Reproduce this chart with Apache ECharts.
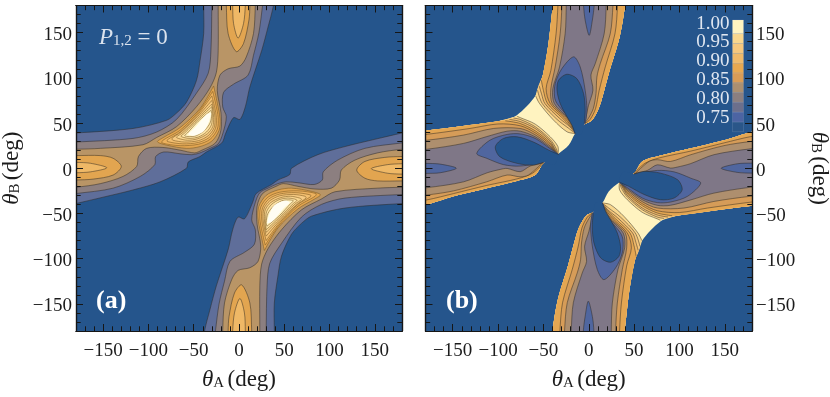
<!DOCTYPE html>
<html>
<head>
<meta charset="utf-8">
<script src="https://cdn.jsdelivr.net/npm/echarts@6/dist/echarts.min.js"></script>
<style>html,body{margin:0;background:#fff}#c{width:830px;height:397px}</style>
</head>
<body>
<div id="c"></div>
<script>
var majorTicks = [-150, -100, -50, 0, 50, 100, 150];
var minorTicks = [-170,-160,-140,-130,-120,-110,-90,-80,-70,-60,-40,-30,-20,-10,10,20,30,40,60,70,80,90,110,120,130,140,160,170];
var legendEdges = [0.725,0.75,0.775,0.8,0.825,0.85,0.875,0.9,0.925,0.95,0.975,1.01];
var legendColors = ['#2a5689','#4c64a3','#6c6f8c','#8b7f80','#ab8f70','#d99c56','#e8a850','#f0ba6a','#f6c87e','#f9d78e','#fff3c0'];
var legendTicks = [0.75,0.8,0.85,0.9,0.95,1];

// panel (a), contour levels, upper left arm
var aUp1 = [[-190,39],[-180,39],[-117,44],[-80,53],[-69,61],[-58,73],[-47,97],[-43,119],[-39,149],[-39,180],[-39,190],[38,190],[38,180],[32,156],[25,130],[12,90],[7,68],[1,54],[-6,56],[-15,38],[-19,28],[-36,18],[-43,13],[-56,7],[-58,0],[-87,-15],[-117,-24],[-150,-32],[-180,-39],[-190,-41]];
var aUp2 = [[-190,29],[-180,29],[-117,33],[-91,40],[-69,54],[-47,83],[-34,105],[-31,130],[-30,180],[-30,190],[27,190],[26,180],[22,150],[16,125],[10,103],[-6,93],[-17,84],[-18,68],[-14,57],[-18,38],[-23,27],[-32,22],[-43,17],[-52,15],[-65,16],[-83,18],[-92,13],[-93,4],[-109,-9],[-139,-22],[-180,-28],[-190,-29]];
var aUp3 = [[-190,21],[-180,21],[-153,22],[-106,26],[-91,34],[-69,46],[-47,68],[-32,89],[-25,106],[-23,130],[-23,180],[-23,190],[18,190],[18,180],[16,149],[8,123],[1,113],[-12,110],[-21,103],[-24,86],[-20,62],[-20,42],[-26,28],[-41,20],[-49,17],[-65,20],[-84,23],[-102,22],[-111,13],[-113,2],[-128,-9],[-153,-17],[-180,-21],[-190,-21]];
var aUpSide4 = [[-190,14],[-180,14],[-153,14],[-139,11],[-130,2],[-139,-7.5],[-161,-12],[-180,-13],[-190,-13]];
var aUpSide5 = [[-190,6.5],[-180,6.5],[-164,5.5],[-146,0.5],[-164,-4],[-180,-5],[-190,-5]];
var aUpTop4 = [[-14,190],[-14,180],[-12,149],[-3,129],[5,138],[11,164],[12,180],[12,190]];
var aUpTop5 = [[-7,190],[-7,180],[-6,160],[-1,144],[5,160],[7,180],[7,190]];
var aUpPeak4 = [[-28,91],[-43,66],[-65,45],[-83.5,34],[-90,29.3],[-80,25.6],[-58,22],[-43,24],[-30,30],[-22,42],[-21,55],[-24,72]];
var aUpPeak5 = [[-29,85],[-44,63],[-65,42],[-84,31],[-85,28],[-65,25],[-45,26.5],[-32,32],[-24,43],[-23,56],[-25.5,70]];
var aUpPeak6 = [[-30,80],[-45,60],[-65,40],[-79,31.5],[-79,29.5],[-62,27],[-45,28.5],[-33,34],[-26,44],[-25,56],[-27,68]];
var aUpPeak7 = [[-30,75],[-46,57],[-64,40],[-74,33],[-73,31],[-60,29],[-45,30.5],[-34,36],[-27.5,45],[-26.5,56],[-28,66]];
var aUpPeak8 = [[-30,71],[-46,55],[-62,39.5],[-69,34.5],[-67,33],[-57,31],[-46,32.5],[-35,38],[-29,46],[-28,56],[-29,65]];
var aUpPeak9 = [[-30,68],[-45,54],[-60,39],[-64,35.5],[-61,34],[-54,33],[-45,34.5],[-36,40],[-30.5,48],[-29.5,58]];
var aUpPeak10 = [[-31,64],[-45,52],[-57,39],[-60,36],[-55,35],[-47,36],[-38,42],[-32,50],[-30,60]];
var aUpPeak11 = [[-31,61],[-36,59.5],[-48.6,45],[-56,37.5],[-50,36],[-39,41],[-33,52]];

// panel (a), lower right arm
var aLo1 = [[190,-39],[180,-39],[117,-44],[80,-53],[69,-61],[58,-73],[47,-97],[43,-119],[39,-149],[39,-180],[39,-190],[-38,-190],[-38,-180],[-32,-156],[-25,-130],[-12,-90],[-7,-68],[-1,-54],[6,-56],[15,-38],[19,-28],[36,-18],[43,-13],[56,-7],[58,0],[87,15],[117,24],[150,32],[180,39],[190,41]];
var aLo2 = [[190,-29],[180,-29],[117,-33],[91,-40],[69,-54],[47,-83],[34,-105],[31,-130],[30,-180],[30,-190],[-27,-190],[-26,-180],[-22,-150],[-16,-125],[-10,-103],[6,-93],[17,-84],[18,-68],[14,-57],[18,-38],[23,-27],[32,-22],[43,-17],[52,-15],[65,-16],[83,-18],[92,-13],[93,-4],[109,9],[139,22],[180,28],[190,29]];
var aLo3 = [[190,-21],[180,-21],[153,-22],[106,-26],[91,-34],[69,-46],[47,-68],[32,-89],[25,-106],[23,-130],[23,-180],[23,-190],[-18,-190],[-18,-180],[-16,-149],[-8,-123],[-1,-113],[12,-110],[21,-103],[24,-86],[20,-62],[20,-42],[26,-28],[41,-20],[49,-17],[65,-20],[84,-23],[102,-22],[111,-13],[113,-2],[128,9],[153,17],[180,21],[190,21]];
var aLoSide4 = [[190,-14],[180,-14],[153,-14],[139,-11],[130,-2],[139,7.5],[161,12],[180,13],[190,13]];
var aLoSide5 = [[190,-6.5],[180,-6.5],[164,-5.5],[146,-0.5],[164,4],[180,5],[190,5]];
var aLoTop4 = [[14,-190],[14,-180],[12,-149],[3,-129],[-5,-138],[-11,-164],[-12,-180],[-12,-190]];
var aLoTop5 = [[7,-190],[7,-180],[6,-160],[1,-144],[-5,-160],[-7,-180],[-7,-190]];
var aLoPeak4 = [[28,-91],[43,-66],[65,-45],[83.5,-34],[90,-29.3],[80,-25.6],[58,-22],[43,-24],[30,-30],[22,-42],[21,-55],[24,-72]];
var aLoPeak5 = [[29,-85],[44,-63],[65,-42],[84,-31],[85,-28],[65,-25],[45,-26.5],[32,-32],[24,-43],[23,-56],[25.5,-70]];
var aLoPeak6 = [[30,-80],[45,-60],[65,-40],[79,-31.5],[79,-29.5],[62,-27],[45,-28.5],[33,-34],[26,-44],[25,-56],[27,-68]];
var aLoPeak7 = [[30,-75],[46,-57],[64,-40],[74,-33],[73,-31],[60,-29],[45,-30.5],[34,-36],[27.5,-45],[26.5,-56],[28,-66]];
var aLoPeak8 = [[30,-71],[46,-55],[62,-39.5],[69,-34.5],[67,-33],[57,-31],[46,-32.5],[35,-38],[29,-46],[28,-56],[29,-65]];
var aLoPeak9 = [[30,-68],[45,-54],[60,-39],[64,-35.5],[61,-34],[54,-33],[45,-34.5],[36,-40],[30.5,-48],[29.5,-58]];
var aLoPeak10 = [[31,-64],[45,-52],[57,-39],[60,-36],[55,-35],[47,-36],[38,-42],[32,-50],[30,-60]];
var aLoPeak11 = [[31,-61],[36,-59.5],[48.6,-45],[56,-37.5],[50,-36],[39,-41],[33,-52]];

// panel (b), outline of the masked region, upper left arm
var bUpShape = [[-190,40.5],[-180,41.4],[-131,47.7],[-94,53.2],[-79.3,58.7],[-59,80],[-50.6,103],[-44.4,138],[-39.6,180],[-38,190],[40,190],[40,180],[34,145],[23,108],[14,75],[10,64],[3,52.5],[-5,48.5],[-15,38.5],[-22,25.6],[-34,15.5],[-50,5.5],[-59,-7.5],[-79.3,-14],[-112.5,-22],[-149,-31],[-180,-40.5],[-190,-41]];
var bUpTopEdge = [[-5,48.5],[3,52.5],[10,64],[14,75],[23,108],[34,145],[40,180],[40,190],[-38,190],[-39.6,180],[-44.4,138],[-50.6,103]];
var bUpLeftEdge = [[-50,5.5],[-59,-7.5],[-79.3,-14],[-112.5,-22],[-149,-31],[-180,-40.5],[-190,-41],[-190,40.5],[-180,41.4],[-131,47.7],[-100,52]];
// flank lines running from the top of the panel to the tip
var bUpF1 = [[-58.5,80],[-54.3,71.6],[-38.8,53.2],[-24,40.3],[-15,38.5]];
var bUpF2 = [[-56.5,86.4],[-51.3,71.6],[-35,54],[-22,44],[-15,38.5]];
var bUpF3 = [[-54.5,90.8],[-52,82],[-48.4,71.6],[-32,55],[-21,46],[-15,38.5]];
var bUpF4 = [[-52.3,97.4],[-50,86],[-45.5,71.6],[-29.6,56],[-20.4,46.6],[-15,38.5]];
var bUpF5 = [[-34,190],[-34,180],[-36,149],[-41.8,108],[-47,88],[-42.5,71.6],[-27,56],[-19.7,47.3],[-15,38.5]];
var bUpF6 = [[-29.6,190],[-29.6,180],[-31.5,149],[-37,112],[-41.8,88],[-40.3,71.6],[-24.8,56],[-19,48],[-15,38.5]];
var bUpF7 = [[-24.8,190],[-24.8,180],[-26,149],[-32.2,112],[-39.6,88],[-38,71.6],[-23.4,56],[-18.2,48.8],[-15,38.5]];
var bUpR5 = [[-4.6,49],[1.5,54],[7.5,66],[11.5,86],[18.2,112],[28.9,148.7],[31.8,180],[31.8,190]];
var bUpR6 = [[-4.6,49.5],[-0.2,55.5],[5,66],[8,82.7],[9,101],[12.7,115.8],[23.7,148.7],[26.7,180],[26.7,190]];
var bUpR7 = [[-4.6,49.5],[-3,57],[-0.2,69.7],[4.6,86.4],[2.4,103],[7.2,115.8],[17,148.7],[19.3,180],[19.3,190]];
var bUpBlue = [[-15,38.5],[-17.5,48.8],[-22.3,56],[-35,71.6],[-37.7,79],[-37,93.7],[-29.6,110.2],[-16.7,123.2],[-9.4,112],[-3.9,86],[-2,64],[-3.9,50]];
var bUpBlueTop = [[-5.7,190],[-5.7,180],[-4,164],[0.5,147],[4,164],[6,180],[6,190]];
var bUpHole = [[-15,38.5],[-18.6,47.7],[-24,57],[-31.5,71.6],[-35,86.4],[-33.3,97.4],[-24,104],[-13,99],[-5.7,82.6],[-3.9,64],[-5,49.5]];
var bUpHoleMouth = [[-8,38]];
// flank lines running from the left of the panel to the tip
var bUpG1 = [[-79,57.5],[-75.6,56],[-59,48.8],[-42.5,34.8],[-34,24],[-34,15.5]];
var bUpG2 = [[-83,55.5],[-75.6,54],[-59,45.9],[-42.5,31.9],[-36,22],[-34,15.5]];
var bUpG3 = [[-87.4,54],[-75.6,51.7],[-59,44],[-42.5,30],[-37,21],[-34,15.5]];
var bUpG4 = [[-92,52.5],[-75.6,49.5],[-59,41.4],[-42.5,28.2],[-37.5,20.5],[-34,15.5]];
var bUpG5 = [[-190,37],[-179.5,37.4],[-131,44],[-100,49],[-75.6,47],[-59,39.2],[-42.5,26.4],[-38,20],[-34,15.5]];
var bUpG6 = [[-190,31],[-178.5,31],[-138,36.7],[-105,44],[-75.6,44],[-59,37],[-42.5,24.5],[-38,19.5],[-34,15.5]];
var bUpG7 = [[-190,21],[-178.5,21],[-138,27.5],[-112.5,35],[-90,41],[-75.6,41],[-59,34.8],[-42.5,23],[-38,19],[-34,15.5]];
var bUpL5 = [[-50,5.5],[-62,-5.5],[-78,-11.5],[-112.5,-19],[-149,-28],[-178.5,-35],[-190,-35.5]];
var bUpL6 = [[-51.7,5.4],[-66.5,-7.5],[-75.6,-9.5],[-90,-7.5],[-112.5,-15],[-149,-25],[-178.5,-29.6],[-190,-30]];
var bUpL7 = [[-50,6],[-64.6,2.4],[-75.6,-3.8],[-90,-0.2],[-97.7,-1.3],[-112,-5],[-138,-15],[-178.5,-21.5],[-190,-21.5]];
var bUpBlue2 = [[-34,15.5],[-38,18.5],[-42.5,21.6],[-59,33],[-75.6,38],[-90,37.4],[-109,31],[-123.5,16.4],[-112.5,11],[-94,4],[-75.6,2.4],[-50,6.5]];
var bUpBlueSide = [[-190,5.4],[-180,5.4],[-164,4.6],[-146,0],[-164,-5],[-180,-5.7],[-190,-5.7]];
var bUpHole2 = [[-34,15.5],[-44,20],[-61,29],[-79,34.8],[-94,33],[-103,23.8],[-98,12.7],[-79,5.4],[-61,3.5],[-50,6.5]];
var bUpHole2Mouth = [[-38,4]];

// panel (b), lower right arm
var bLoShape = [[190,-40.5],[180,-41.4],[131,-47.7],[94,-53.2],[79.3,-58.7],[59,-80],[50.6,-103],[44.4,-138],[39.6,-180],[38,-190],[-40,-190],[-40,-180],[-34,-145],[-23,-108],[-14,-75],[-10,-64],[-3,-52.5],[5,-48.5],[15,-38.5],[22,-25.6],[34,-15.5],[50,-5.5],[59,7.5],[79.3,14],[112.5,22],[149,31],[180,40.5],[190,41]];
var bLoTopEdge = [[5,-48.5],[-3,-52.5],[-10,-64],[-14,-75],[-23,-108],[-34,-145],[-40,-180],[-40,-190],[38,-190],[39.6,-180],[44.4,-138],[50.6,-103]];
var bLoLeftEdge = [[50,-5.5],[59,7.5],[79.3,14],[112.5,22],[149,31],[180,40.5],[190,41],[190,-40.5],[180,-41.4],[131,-47.7],[100,-52]];
var bLoF1 = [[58.5,-80],[54.3,-71.6],[38.8,-53.2],[24,-40.3],[15,-38.5]];
var bLoF2 = [[56.5,-86.4],[51.3,-71.6],[35,-54],[22,-44],[15,-38.5]];
var bLoF3 = [[54.5,-90.8],[52,-82],[48.4,-71.6],[32,-55],[21,-46],[15,-38.5]];
var bLoF4 = [[52.3,-97.4],[50,-86],[45.5,-71.6],[29.6,-56],[20.4,-46.6],[15,-38.5]];
var bLoF5 = [[34,-190],[34,-180],[36,-149],[41.8,-108],[47,-88],[42.5,-71.6],[27,-56],[19.7,-47.3],[15,-38.5]];
var bLoF6 = [[29.6,-190],[29.6,-180],[31.5,-149],[37,-112],[41.8,-88],[40.3,-71.6],[24.8,-56],[19,-48],[15,-38.5]];
var bLoF7 = [[24.8,-190],[24.8,-180],[26,-149],[32.2,-112],[39.6,-88],[38,-71.6],[23.4,-56],[18.2,-48.8],[15,-38.5]];
var bLoR5 = [[4.6,-49],[-1.5,-54],[-7.5,-66],[-11.5,-86],[-18.2,-112],[-28.9,-148.7],[-31.8,-180],[-31.8,-190]];
var bLoR6 = [[4.6,-49.5],[0.2,-55.5],[-5,-66],[-8,-82.7],[-9,-101],[-12.7,-115.8],[-23.7,-148.7],[-26.7,-180],[-26.7,-190]];
var bLoR7 = [[4.6,-49.5],[3,-57],[0.2,-69.7],[-4.6,-86.4],[-2.4,-103],[-7.2,-115.8],[-17,-148.7],[-19.3,-180],[-19.3,-190]];
var bLoBlue = [[15,-38.5],[17.5,-48.8],[22.3,-56],[35,-71.6],[37.7,-79],[37,-93.7],[29.6,-110.2],[16.7,-123.2],[9.4,-112],[3.9,-86],[2,-64],[3.9,-50]];
var bLoBlueTop = [[5.7,-190],[5.7,-180],[4,-164],[-0.5,-147],[-4,-164],[-6,-180],[-6,-190]];
var bLoHole = [[15,-38.5],[18.6,-47.7],[24,-57],[31.5,-71.6],[35,-86.4],[33.3,-97.4],[24,-104],[13,-99],[5.7,-82.6],[3.9,-64],[5,-49.5]];
var bLoHoleMouth = [[8,-38]];
var bLoG1 = [[79,-57.5],[75.6,-56],[59,-48.8],[42.5,-34.8],[34,-24],[34,-15.5]];
var bLoG2 = [[83,-55.5],[75.6,-54],[59,-45.9],[42.5,-31.9],[36,-22],[34,-15.5]];
var bLoG3 = [[87.4,-54],[75.6,-51.7],[59,-44],[42.5,-30],[37,-21],[34,-15.5]];
var bLoG4 = [[92,-52.5],[75.6,-49.5],[59,-41.4],[42.5,-28.2],[37.5,-20.5],[34,-15.5]];
var bLoG5 = [[190,-37],[179.5,-37.4],[131,-44],[100,-49],[75.6,-47],[59,-39.2],[42.5,-26.4],[38,-20],[34,-15.5]];
var bLoG6 = [[190,-31],[178.5,-31],[138,-36.7],[105,-44],[75.6,-44],[59,-37],[42.5,-24.5],[38,-19.5],[34,-15.5]];
var bLoG7 = [[190,-21],[178.5,-21],[138,-27.5],[112.5,-35],[90,-41],[75.6,-41],[59,-34.8],[42.5,-23],[38,-19],[34,-15.5]];
var bLoL5 = [[50,-5.5],[62,5.5],[78,11.5],[112.5,19],[149,28],[178.5,35],[190,35.5]];
var bLoL6 = [[51.7,-5.4],[66.5,7.5],[75.6,9.5],[90,7.5],[112.5,15],[149,25],[178.5,29.6],[190,30]];
var bLoL7 = [[50,-6],[64.6,-2.4],[75.6,3.8],[90,0.2],[97.7,1.3],[112,5],[138,15],[178.5,21.5],[190,21.5]];
var bLoBlue2 = [[34,-15.5],[38,-18.5],[42.5,-21.6],[59,-33],[75.6,-38],[90,-37.4],[109,-31],[123.5,-16.4],[112.5,-11],[94,-4],[75.6,-2.4],[50,-6.5]];
var bLoBlueSide = [[190,-5.4],[180,-5.4],[164,-4.6],[146,0],[164,5],[180,5.7],[190,5.7]];
var bLoHole2 = [[34,-15.5],[44,-20],[61,-29],[79,-34.8],[94,-33],[103,-23.8],[98,-12.7],[79,-5.4],[61,-3.5],[50,-6.5]];
var bLoHole2Mouth = [[38,-4]];

var BG = '#25558c';
var SERIF = '"Liberation Serif","DejaVu Serif",serif';
var INK = '#1c1c1c';
var LINE = 'rgba(45,40,35,0.62)';
var PEAK_LINE = 'rgba(125,90,35,0.72)';

// fill made of several open lines, only those lines get a stroke
function area(color, lines, closing, noStroke, stroke) {
	var pts = [];
	lines.forEach(function(l) { pts = pts.concat(l); });
	return {color: color, fill: closing ? pts.concat(closing) : pts, lines: noStroke ? [] : lines, stroke: stroke || LINE};
}

var aColors = ['#5f6e9a', '#8c7f80', '#b99566', '#e2a550', '#efb866'];
var peakColors = ['#e2a550', '#ecb15e', '#f2be6f', '#f6ca82', '#f9d690', '#fce3a6', '#fff3c4', '#fffdf2'];

function aArm(l1, l2, l3, s4, s5, t4, t5, peaks) {
	var out = [
		area(aColors[0], [l1.concat([l1[0]])]),
		area(aColors[1], [l2.concat([l2[0]])]),
		area(aColors[2], [l3.concat([l3[0]])]),
		area(aColors[3], [s4.concat([s4[0]])]),
		area(aColors[3], [t4.concat([t4[0]])]),
		area(aColors[4], [s5.concat([s5[0]])]),
		area(aColors[4], [t5.concat([t5[0]])])
	];
	peaks.forEach(function(p, i) {
		out.push(area(peakColors[i], [p.concat([p[0]])], null, i === peaks.length - 1, PEAK_LINE));
	});
	return out;
}

function bArm(o) {
	var c = ['#fff3c0', '#f9d78e', '#f5c67c', '#efb868', '#e4a652', '#d69c58', '#ae8f6e', '#7f7787', '#50669f'];
	return [
		area(c[0], [o.shape], null, true),
		area(c[1], [o.f[0]], o.topEdge), area(c[2], [o.f[1]], o.topEdge), area(c[3], [o.f[2]], o.topEdge), area(c[4], [o.f[3]], o.topEdge),
		area(c[5], [o.f[4], o.r[0]]), area(c[6], [o.f[5], o.r[1]]), area(c[7], [o.f[6], o.r[2]]),
		area(c[8], [o.blue]), area(c[8], [o.blueTop.concat([o.blueTop[0]])]),
		area(BG, [o.hole], o.mouth),
		area(c[1], [o.g[0]], o.leftEdge), area(c[2], [o.g[1]], o.leftEdge), area(c[3], [o.g[2]], o.leftEdge), area(c[4], [o.g[3]], o.leftEdge),
		area(c[5], [o.g[4], o.l[0]]), area(c[6], [o.g[5], o.l[1]]), area(c[7], [o.g[6], o.l[2]]),
		area(c[8], [o.blue2]), area(c[8], [o.blueSide.concat([o.blueSide[0]])]),
		area(BG, [o.hole2], o.mouth2)
	];
}

var layersA = aArm(aUp1, aUp2, aUp3, aUpSide4, aUpSide5, aUpTop4, aUpTop5, [aUpPeak4, aUpPeak5, aUpPeak6, aUpPeak7, aUpPeak8, aUpPeak9, aUpPeak10, aUpPeak11])
	.concat(aArm(aLo1, aLo2, aLo3, aLoSide4, aLoSide5, aLoTop4, aLoTop5, [aLoPeak4, aLoPeak5, aLoPeak6, aLoPeak7, aLoPeak8, aLoPeak9, aLoPeak10, aLoPeak11]));

var layersB = bArm({
	shape: bUpShape, topEdge: bUpTopEdge, leftEdge: bUpLeftEdge,
	f: [bUpF1, bUpF2, bUpF3, bUpF4, bUpF5, bUpF6, bUpF7], r: [bUpR5, bUpR6, bUpR7],
	g: [bUpG1, bUpG2, bUpG3, bUpG4, bUpG5, bUpG6, bUpG7], l: [bUpL5, bUpL6, bUpL7],
	blue: bUpBlue, blueTop: bUpBlueTop, hole: bUpHole, mouth: bUpHoleMouth,
	blue2: bUpBlue2, blueSide: bUpBlueSide, hole2: bUpHole2, mouth2: bUpHole2Mouth
}).concat(bArm({
	shape: bLoShape, topEdge: bLoTopEdge, leftEdge: bLoLeftEdge,
	f: [bLoF1, bLoF2, bLoF3, bLoF4, bLoF5, bLoF6, bLoF7], r: [bLoR5, bLoR6, bLoR7],
	g: [bLoG1, bLoG2, bLoG3, bLoG4, bLoG5, bLoG6, bLoG7], l: [bLoL5, bLoL6, bLoL7],
	blue: bLoBlue, blueTop: bLoBlueTop, hole: bLoHole, mouth: bLoHoleMouth,
	blue2: bLoBlue2, blueSide: bLoBlueSide, hole2: bLoHole2, mouth2: bLoHole2Mouth
}));

function contourSeries(layers, xIndex, yIndex) {
	return {
		type: 'custom',
		coordinateSystem: 'cartesian2d',
		xAxisIndex: xIndex,
		yAxisIndex: yIndex,
		clip: true,
		silent: true,
		z: 1,
		data: layers.map(function(l, i) { return [i]; }),
		renderItem: function(params, api) {
			var layer = layers[params.dataIndex];
			var toPx = function(p) { return api.coord(p); };
			var kids = [{
				type: 'polygon',
				shape: {points: layer.fill.map(toPx), smooth: 0.3},
				style: {fill: layer.color, stroke: null}
			}];
			layer.lines.forEach(function(l) {
				kids.push({
					type: 'polyline',
					shape: {points: l.map(toPx), smooth: 0.3},
					style: {fill: null, stroke: layer.stroke, lineWidth: 0.8}
				});
			});
			return {type: 'group', children: kids};
		}
	};
}

var nameRich = {
	t: {fontFamily: SERIF, fontStyle: 'italic', fontSize: 23, color: INK},
	s: {fontFamily: SERIF, fontSize: 15, color: INK, padding: [8, 0, 0, 0]},
	n: {fontFamily: SERIF, fontSize: 23, color: INK}
};

function tickAxis(grid, position, ticks, len) {
	return {
		type: 'value', gridIndex: grid, position: position, min: -180, max: 180, z: 5,
		splitLine: {show: false},
		axisLine: {show: true, onZero: false, lineStyle: {color: '#161616', width: 1.2}},
		axisTick: {show: true, inside: true, length: len, customValues: ticks, lineStyle: {color: '#161616', width: 1}},
		axisLabel: {show: false}
	};
}

function labelOn(ax, margin, name, nameGap, nameRotate) {
	ax.axisLabel = {
		show: true, customValues: majorTicks, fontFamily: SERIF, fontSize: 19, color: INK, margin: margin,
		formatter: function(v) { return String(v).replace('-', '\u2212'); }
	};
	ax.name = name;
	ax.nameLocation = 'middle';
	ax.nameGap = nameGap;
	ax.nameRotate = nameRotate;
	ax.nameTextStyle = {rich: nameRich};
	return ax;
}

function xSet(grid, name) {
	return [labelOn(tickAxis(grid, 'bottom', majorTicks, 7), 11, name, 37, 0), tickAxis(grid, 'bottom', minorTicks, 4.7),
		tickAxis(grid, 'top', majorTicks, 7), tickAxis(grid, 'top', minorTicks, 4.7)];
}

// the digits of the y labels sit a little under their ticks, so they get an axis of their own
function ySet(grid, side, other, name, nameGap, nameRotate) {
	var labels = labelOn(tickAxis(grid, side, [], 0), 4, name, nameGap, nameRotate);
	labels.min = -177.2;
	labels.max = 182.8;
	labels.axisLine = {show: false, onZero: false};
	labels.axisTick = {show: false};
	return [tickAxis(grid, side, majorTicks, 7), tickAxis(grid, side, minorTicks, 4.7),
		tickAxis(grid, other, majorTicks, 7), tickAxis(grid, other, minorTicks, 4.7), labels];
}

var xName = '{t|\u03b8}{s|A} {n|(deg)}';
var yName = '{t|\u03b8}{s|B} {n|(deg)}';

var xAxes = xSet(0, xName).concat(xSet(1, xName))
	.concat([{type: 'value', gridIndex: 2, min: 0, max: 1, show: false}]);
var yAxes = ySet(0, 'left', 'right', yName, 53, 90)
	.concat(ySet(1, 'right', 'left', yName, 56, -90))
	.concat([
		{type: 'value', gridIndex: 2, min: 0.725, max: 1.01, show: false},
		{type: 'value', gridIndex: 2, position: 'left', min: 0.7138, max: 1.0096, z: 5,
			splitLine: {show: false}, axisLine: {show: false}, axisTick: {show: false},
			axisLabel: {customValues: legendTicks, margin: 3, fontFamily: SERIF, fontSize: 19, color: '#dfe6f0',
				formatter: function(v) { return v.toFixed(2); }}}
	]);

var myChart = echarts.init(document.getElementById('c'));
myChart.setOption({
	animation: false,
	backgroundColor: '#fff',
	grid: [
		{left: 76, top: 5.5, width: 326, height: 325.5, show: true, backgroundColor: BG, borderWidth: 0, outerBoundsMode: 'none'},
		{left: 425.5, top: 5.5, width: 326.5, height: 325.5, show: true, backgroundColor: BG, borderWidth: 0, outerBoundsMode: 'none'},
		{left: 732.5, top: 20, width: 11, height: 111.7, z: 4, outerBoundsMode: 'none'}
	],
	xAxis: xAxes,
	yAxis: yAxes,
	title: [
		{text: '{i|P}{s|1,2}{n| = 0}', left: 94, top: 21, textStyle: {fontWeight: 'normal', rich: {
			i: {fontFamily: SERIF, fontStyle: 'italic', fontWeight: 'normal', fontSize: 23, color: '#dbe3ee'},
			s: {fontFamily: SERIF, fontWeight: 'normal', fontSize: 15, color: '#dbe3ee', padding: [8, 0, 0, 0]},
			n: {fontFamily: SERIF, fontWeight: 'normal', fontSize: 23, color: '#dbe3ee'}
		}}},
		{text: '(a)', left: 91, top: 283, textStyle: {fontFamily: SERIF, fontWeight: 'bold', fontSize: 26, color: '#fff'}},
		{text: '(b)', left: 441, top: 283, textStyle: {fontFamily: SERIF, fontWeight: 'bold', fontSize: 26, color: '#fff'}}
	],
	series: [
		contourSeries(layersA, 0, 0),
		contourSeries(layersB, 4, 5),
		{
			type: 'custom',
			coordinateSystem: 'cartesian2d',
			xAxisIndex: 8,
			yAxisIndex: 10,
			silent: true,
			z: 4,
			data: legendColors.map(function(c, i) { return [i]; }),
			renderItem: function(params, api) {
				var i = params.dataIndex;
				var a = api.coord([0, legendEdges[i + 1]]);
				var b = api.coord([1, legendEdges[i]]);
				return {
					type: 'rect',
					shape: {x: a[0], y: a[1], width: b[0] - a[0], height: b[1] - a[1]},
					style: {fill: legendColors[i], stroke: 'rgba(200,210,225,0.25)', lineWidth: 0.6}
				};
			}
		}
	]
});
</script>
</body>
</html>
